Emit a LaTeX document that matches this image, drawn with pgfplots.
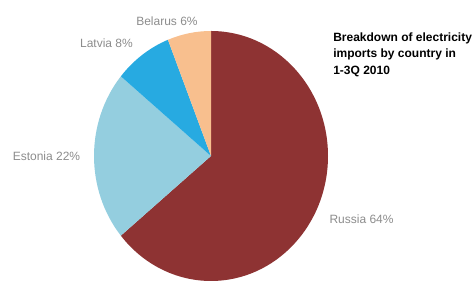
\documentclass[border=0pt]{standalone}
\usepackage{pgfplots}
\usepackage{pgfplotstable}
\pgfplotsset{compat=1.18}
\usepackage{fontspec}
\setmainfont{Liberation Sans}
\definecolor{russia}{HTML}{8E3333}
\definecolor{estonia}{HTML}{94CEDF}
\definecolor{latvia}{HTML}{27AAE1}
\definecolor{belarus}{HTML}{F8BF8E}
\definecolor{lbl}{HTML}{8C8C8C}
\pgfplotstableread{
name value col
Russia 64 russia
Estonia 22 estonia
Latvia 8 latvia
Belarus 6 belarus
}\piedata
\begin{document}
\begin{tikzpicture}
\begin{axis}[
  x=1pt, y=1pt,
  xmin=-158.25, xmax=198.75, ymin=-92.25, ymax=117,
  hide axis, clip=false,
  scale only axis,
]
\def\startang{90}
\pgfplotsforeachungrouped \i in {0,1,2,3}{%
  \pgfplotstablegetelem{\i}{value}\of\piedata \let\val\pgfplotsretval
  \pgfplotstablegetelem{\i}{col}\of\piedata \let\col\pgfplotsretval
  \pgfmathsetmacro\endang{\startang-3.6*\val}%
  \edef\temp{\noexpand\fill[\col] (axis cs:0,0) -- (axis cs:{87.75*cos(\startang)},{93.75*sin(\startang)}) arc[start angle=\startang, end angle=\endang, x radius=87.75pt, y radius=93.75pt] -- cycle;}%
  \temp
  \global\let\startang\endang
}
\path[use as bounding box] (axis cs:-158.25,-92.25) rectangle (axis cs:198.75,117);
\node[font=\fontsize{9}{11}\selectfont, text=lbl] at (axis cs:-33,101.25) {Belarus 6\%};
\node[font=\fontsize{9}{11}\selectfont, text=lbl] at (axis cs:-78.4,84.75) {Latvia 8\%};
\node[font=\fontsize{9}{11}\selectfont, text=lbl] at (axis cs:-123.4,0) {Estonia 22\%};
\node[font=\fontsize{9}{11}\selectfont, text=lbl] at (axis cs:112.9,-47.25) {Russia 64\%};
\node[font=\fontsize{9}{12.2}\selectfont\bfseries, align=left, anchor=north west, inner sep=0pt] at (axis cs:91.5,92.5) {Breakdown of electricity\\imports by country in\\1-3Q 2010};
\end{axis}
\end{tikzpicture}
\end{document}
